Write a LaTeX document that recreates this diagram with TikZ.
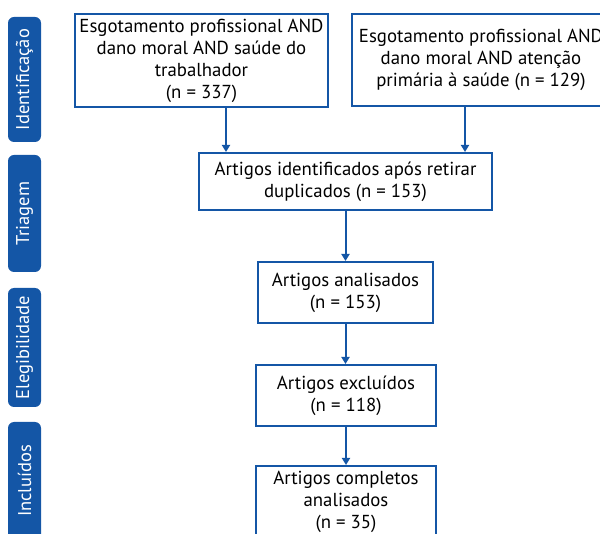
\documentclass[tikz,border=0pt]{standalone}
\usepackage{fontspec}
\setmainfont{PT Sans}
\usetikzlibrary{arrows.meta}
\definecolor{sblue}{HTML}{1456A6}
\begin{document}
\begin{tikzpicture}[x=1pt,y=-1pt,
  box/.style={draw=sblue,line width=2pt,rectangle,inner sep=0pt,align=center,
    font=\fontsize{18.8}{22}\selectfont},
  side/.style={fill=sblue,rounded corners=6pt,inner sep=0pt,minimum width=33pt},
  sidetext/.style={rotate=90,text=white,inner sep=0pt,font=\fontsize{18.5}{20}\selectfont}]
\tikzset{arr/.style={draw=sblue,line width=2pt,-{Triangle[width=8pt,length=7pt]}}}
\useasboundingbox (0,0) rectangle (600,534);
\begin{scope}
\clip (0,0) rectangle (600,534);
% side labels
\node[side,minimum height=125pt] (s1) at (24.5,79.5) {};
\node[sidetext] (t1) at (s1.center) {Identificação};
\node[side,minimum height=117pt] (s2) at (24.5,213.5) {};
\node[sidetext] (t2) at (s2.center) {Triagem};
\node[side,minimum height=119pt] (s3) at (24.5,347.5) {};
\node[sidetext] (t3) at (s3.center) {Elegibilidade};
\node[side,minimum height=118pt] (s4) at (24.5,481) {};
\node[sidetext] (t4) at (s4.center) {Incluídos};
% boxes
\node[box,minimum width=253pt,minimum height=93pt] (b1) at (201.5,60.5)
  {Esgotamento profissional AND\\dano moral AND saúde do\\trabalhador\\(n = 337)};
\node[box,minimum width=258pt,minimum height=92pt] (b2) at (481,60)
  {Esgotamento profissional AND\\dano moral AND atenção\\primária à saúde (n = 129)};
\node[box,minimum width=293pt,minimum height=57pt] (b3) at (345.5,181.5)
  {Artigos identificados após retirar\\duplicados (n = 153)};
\node[box,minimum width=175pt,minimum height=61pt] (b4) at (345.5,292.5)
  {Artigos analisados\\(n = 153)};
\node[box,minimum width=180pt,minimum height=61pt] (b5) at (346,395.5)
  {Artigos excluídos\\(n = 118)};
\node[box,minimum width=180pt,minimum height=72pt] (b6) at (346,502)
  {Artigos completos\\analisados\\(n = 35)};
% arrows
\draw[arr] ([xshift=24.5pt]b1.south) -- ([xshift=24.5pt]b1.south |- b3.north);
\draw[arr] ([xshift=-16pt]b2.south) -- ([xshift=-16pt]b2.south |- b3.north);
\draw[arr] (b3.south) -- (b3.south |- b4.north);
\draw[arr] (b4.south) -- (b4.south |- b5.north);
\draw[arr] (b5.south) -- (b5.south |- b6.north);
\end{scope}
\end{tikzpicture}
\end{document}
